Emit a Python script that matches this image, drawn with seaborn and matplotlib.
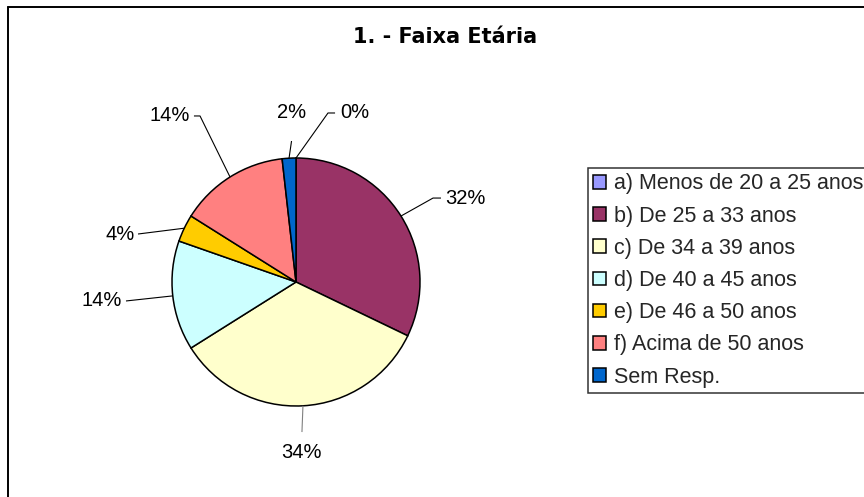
import numpy as np
import seaborn as sns
import matplotlib
matplotlib.use("Agg")
import matplotlib.pyplot as plt
from matplotlib.lines import Line2D

# dados (respondentes por faixa etária)
categorias = [
    "a) Menos de 20 a 25 anos",
    "b) De 25 a 33 anos",
    "c) De 34 a 39 anos",
    "d) De 40 a 45 anos",
    "e) De 46 a 50 anos",
    "f) Acima de 50 anos",
    "Sem Resp.",
]
respondentes = [0, 18, 19, 8, 2, 8, 1]
cores = ["#9999FF", "#993366", "#FFFFCC", "#CCFFFF", "#FFCC00", "#FF8080", "#0066CC"]
titulo = "1. - Faixa Etária"

sns.set_theme(style="white")
plt.rcParams['font.family'] = ['Liberation Sans', 'DejaVu Sans']

W, H = 864, 497
fig = plt.figure(figsize=(W / 100, H / 100), dpi=100)

# eixo da pizza: centro (296, 282) px, raio 124 px
cx, cy, r = 296, 282, 124
ax = fig.add_axes([(cx - r) / W, (H - cy - r) / H, 2 * r / W, 2 * r / H])

pal = sns.color_palette(cores)
wedges, _ = ax.pie(respondentes, colors=pal, startangle=90, counterclock=False,
                   radius=1, wedgeprops=dict(edgecolor="black", linewidth=1.1))
ax.set_xlim(-1, 1)
ax.set_ylim(-1, 1)
ax.axis("off")

total = sum(respondentes)
pct = [f"{round(v / total * 100):.0f}%" for v in respondentes]

# layout dos rótulos (unidades do raio): texto x, y, alinhamento, cotovelo, fim da linha
layout = [
    (0.355, 1.363, "left", (0.258, 1.363), (0.315, 1.363)),
    (1.202, 0.677, "left", (1.105, 0.677), (1.169, 0.677)),
    (0.048, -1.375, "center", (0.048, -1.21), (0.048, -1.21)),
    (-1.403, -0.153, "right", (-1.371, -0.153), (-1.371, -0.153)),
    (-1.298, 0.387, "right", (-1.274, 0.387), (-1.274, 0.387)),
    (-0.855, 1.339, "right", (-0.774, 1.339), (-0.823, 1.339)),
    (-0.032, 1.37, "center", (-0.036, 1.137), (-0.036, 1.137)),
]

for w, lab, (tx, ty, ha, elbow, end) in zip(wedges, pct, layout):
    ang = np.deg2rad((w.theta1 + w.theta2) / 2)
    ex, ey = np.cos(ang), np.sin(ang)
    cor = "#808080" if ha == "center" and ty < 0 else "black"
    ax.plot([ex, elbow[0], end[0]], [ey, elbow[1], end[1]], color=cor,
            lw=0.8, clip_on=False, solid_capstyle="butt")
    ax.text(tx, ty, lab, ha=ha, va="center", fontsize=14.5, color="black",
            clip_on=False)

fig.text(445 / W, 1 - 37 / H, titulo, ha="center", va="center",
         fontsize=15, fontweight="bold", family=["DejaVu Sans"], color="black")

leg = fig.legend(wedges, categorias, loc="lower left",
                 bbox_to_anchor=(588 / W, (H - 393) / H),
                 frameon=True, fancybox=False, shadow=False,
                 fontsize=15.5, handlelength=0.6, handleheight=0.6,
                 handletextpad=0.35, labelspacing=0.52, borderpad=0.25,
                 borderaxespad=0)
leg.get_frame().set_edgecolor("black")
leg.get_frame().set_linewidth(1.1)
leg.get_frame().set_facecolor("white")

# moldura externa do gráfico
x0 = 8 / W
y0 = 1 - 6.5 / H
fig.add_artist(Line2D([x0, x0], [0, y0], transform=fig.transFigure, color="black", lw=1.4))
fig.add_artist(Line2D([x0, 1], [y0, y0], transform=fig.transFigure, color="black", lw=1.4))

fig.savefig("out.png", dpi=100, facecolor="white")
